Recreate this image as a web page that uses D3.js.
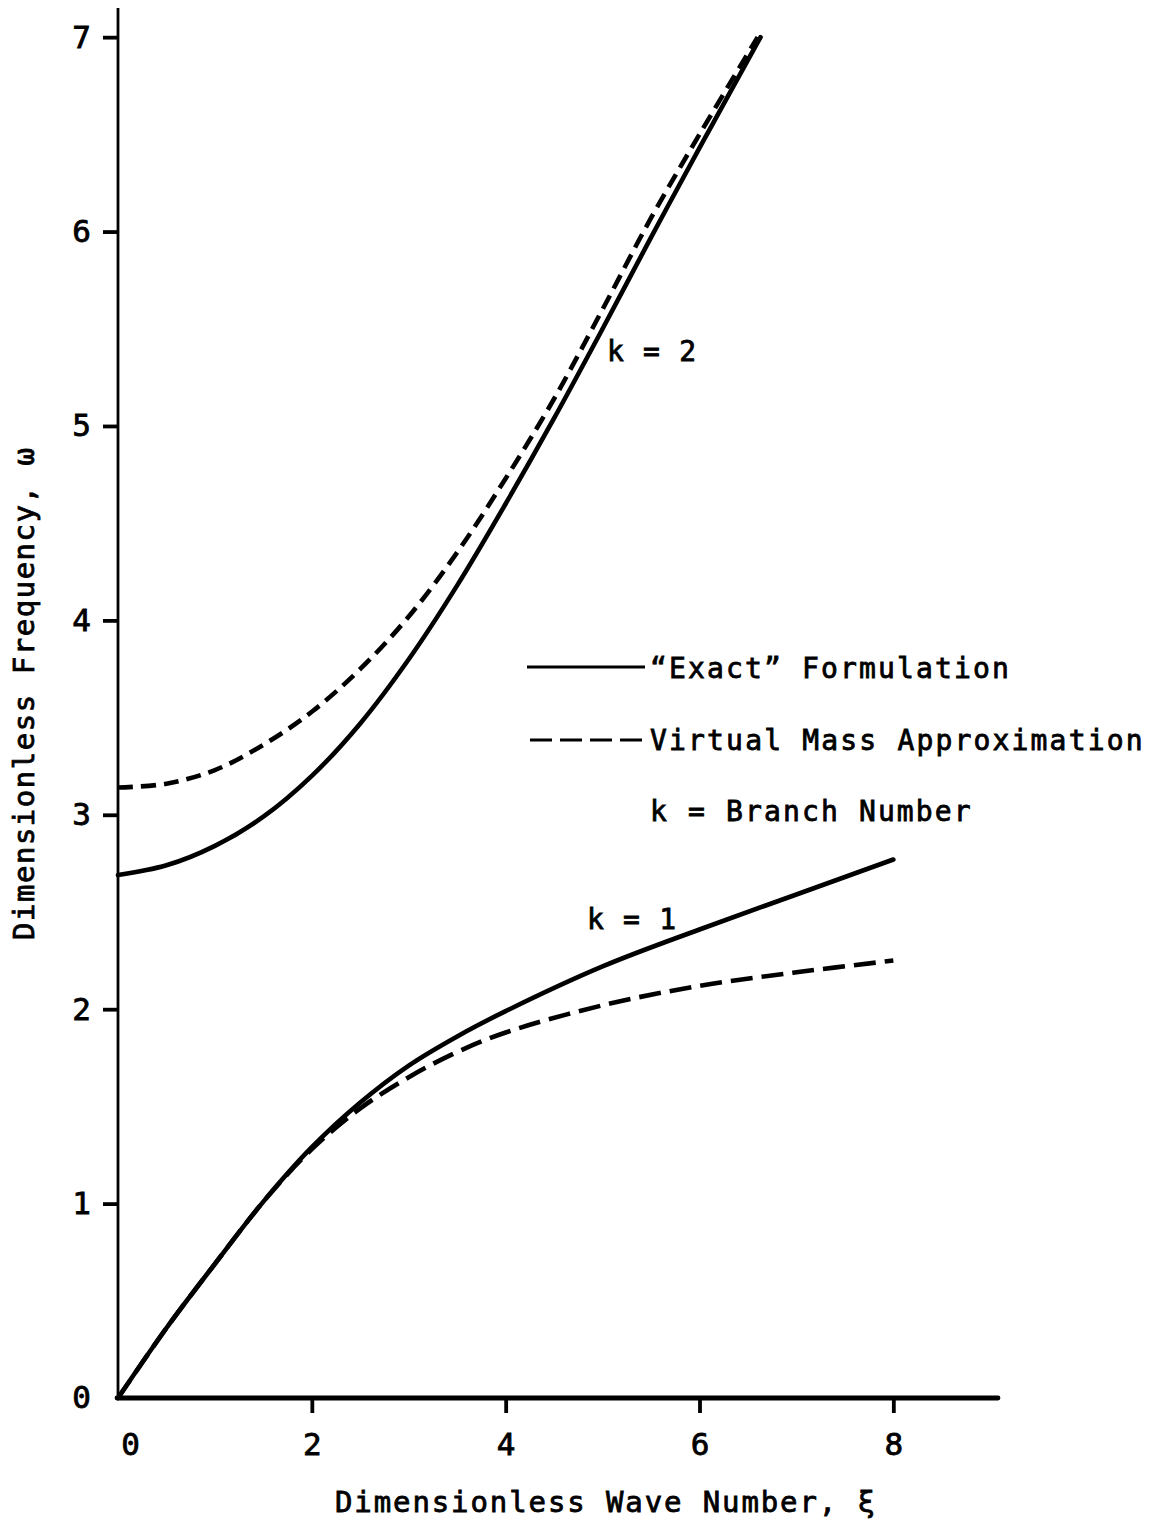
<!DOCTYPE html>
<html>
<head>
<meta charset="utf-8">
<script src="https://cdn.jsdelivr.net/npm/d3@7"></script>
<style>
  html, body { margin: 0; padding: 0; background: #fff; }
  svg text { font-family: "DejaVu Sans Mono", monospace; fill: #000; stroke: #000; stroke-width: 0.8px; }
</style>
</head>
<body>
<svg id="chart" width="1157" height="1523"></svg>
<script>
// Branch k = 2 (upper pair of curves)
const xiK2Exact    = [0, 0.5, 1.0, 1.5, 2.0, 2.5, 3.0, 3.5, 4.0, 4.5, 5.0, 5.5, 6.0, 6.63];
const omegaK2Exact = [2.69, 2.74, 2.84, 2.99, 3.20, 3.47, 3.80, 4.18, 4.60, 5.04, 5.50, 5.97, 6.43, 7.0];
const xiK2Virtual    = [0, 0.5, 1.0, 1.5, 2.0, 2.5, 3.0, 3.5, 4.0, 4.5, 5.0, 5.5, 6.0, 6.6];
const omegaK2Virtual = [3.14, 3.16, 3.23, 3.36, 3.53, 3.75, 4.02, 4.35, 4.73, 5.14, 5.60, 6.07, 6.50, 7.0];

// Branch k = 1 (lower pair of curves)
const xiK1           = [0, 0.5, 1.0, 1.5, 2.0, 2.5, 3.0, 3.5, 4.0, 5.0, 6.0, 7.0, 8.0];
const omegaK1Exact   = [0, 0.36, 0.69, 1.01, 1.29, 1.52, 1.71, 1.86, 1.99, 2.22, 2.41, 2.59, 2.77];
const omegaK1Virtual = [0, 0.36, 0.69, 1.01, 1.28, 1.49, 1.65, 1.78, 1.88, 2.02, 2.12, 2.19, 2.25];

// Axis ticks and texts
const xTickValues = [0, 2, 4, 6, 8];
const yTickValues = [0, 1, 2, 3, 4, 5, 6, 7];
const xAxisTitle = "Dimensionless Wave Number, \u03BE";
const yAxisTitle = "Dimensionless Frequency, \u03C9";
const legendLabels = ["\u201CExact\u201D Formulation", "Virtual Mass Approximation", "k = Branch Number"];
const branchLabels = ["k = 2", "k = 1"];

const svg = d3.select("#chart");
svg.append("rect").attr("width", 1157).attr("height", 1523).attr("fill", "#fff");

const x = d3.scaleLinear().domain([0, 9.08]).range([118, 998]);
const y = d3.scaleLinear().domain([0, 7.15]).range([1398, 8]);

// Axis lines
svg.append("line")
  .attr("x1", x(0)).attr("x2", x(0)).attr("y1", y(7.15)).attr("y2", y(0))
  .attr("stroke", "#000").attr("stroke-width", 2.8);
svg.append("line")
  .attr("x1", x(0) - 1).attr("x2", x(9.08)).attr("y1", y(0)).attr("y2", y(0))
  .attr("stroke", "#000").attr("stroke-width", 4.8).attr("stroke-linecap", "round");

// Bottom axis ticks and labels
const gx = svg.append("g")
  .attr("transform", `translate(0,${y(0)})`)
  .call(d3.axisBottom(x).tickValues(xTickValues).tickSize(15).tickPadding(20).tickFormat(d3.format("d")));
gx.select(".domain").remove();
gx.selectAll(".tick line").attr("stroke", "#000").attr("stroke-width", 3.8)
  .filter(d => d === 0).remove();
gx.selectAll(".tick text").attr("font-size", 31).style("font-family", "DejaVu Sans Mono, monospace")
  .attr("dx", d => d === 0 ? 12 : 0);

// Left axis ticks and labels
const gy = svg.append("g")
  .attr("transform", `translate(${x(0)},0)`)
  .call(d3.axisLeft(y).tickValues(yTickValues).tickSize(15).tickPadding(12).tickFormat(d3.format("d")));
gy.select(".domain").remove();
gy.selectAll(".tick line").attr("stroke", "#000").attr("stroke-width", 3.8)
  .filter(d => d === 0).remove();
gy.selectAll(".tick text").attr("font-size", 31).style("font-family", "DejaVu Sans Mono, monospace");

// Curves
const line = d3.line()
  .x(d => x(d[0]))
  .y(d => y(d[1]))
  .curve(d3.curveCatmullRom.alpha(0.5));

const series = [
  { xs: xiK1,        ys: omegaK1Virtual, dash: "22,9" },
  { xs: xiK2Virtual, ys: omegaK2Virtual, dash: "15,8" },
  { xs: xiK1,        ys: omegaK1Exact,   dash: null },
  { xs: xiK2Exact,   ys: omegaK2Exact,   dash: null }
];

svg.append("g").selectAll("path")
  .data(series)
  .join("path")
  .attr("d", s => line(s.xs.map((v, i) => [v, s.ys[i]])))
  .attr("fill", "none")
  .attr("stroke", "#000")
  .attr("stroke-width", 4.6)
  .attr("stroke-linecap", s => s.dash ? "butt" : "round")
  .attr("stroke-dasharray", s => s.dash);

// Legend
const legend = svg.append("g");
legend.append("line")
  .attr("x1", 527).attr("x2", 645).attr("y1", 667).attr("y2", 667)
  .attr("stroke", "#000").attr("stroke-width", 3.2);
legend.append("line")
  .attr("x1", 530).attr("x2", 645).attr("y1", 740).attr("y2", 740)
  .attr("stroke", "#000").attr("stroke-width", 3.2).attr("stroke-dasharray", "22,8");

const charPitch = 19.1;
const legendY = [678, 750, 821];
legend.selectAll("text")
  .data(legendLabels)
  .join("text")
  .attr("x", 650)
  .attr("y", (d, i) => legendY[i])
  .attr("font-size", 28)
  .attr("textLength", d => d.length * charPitch - 4)
  .attr("lengthAdjust", "spacing")
  .text(d => d);

// Branch labels
const branchPos = [[607, 361], [587, 929]];
svg.append("g").selectAll("text")
  .data(branchLabels)
  .join("text")
  .attr("x", (d, i) => branchPos[i][0])
  .attr("y", (d, i) => branchPos[i][1])
  .attr("font-size", 28)
  .attr("textLength", d => d.length * 18.6 - 4)
  .attr("lengthAdjust", "spacing")
  .text(d => d);

// Axis titles
svg.append("text")
  .attr("x", 335).attr("y", 1512)
  .attr("font-size", 29)
  .attr("textLength", 540)
  .attr("lengthAdjust", "spacing")
  .text(xAxisTitle);

svg.append("text")
  .attr("transform", "translate(34,940) rotate(-90)")
  .attr("x", 0).attr("y", 0)
  .attr("font-size", 29)
  .attr("textLength", 492)
  .attr("lengthAdjust", "spacing")
  .text(yAxisTitle);
</script>
</body>
</html>
